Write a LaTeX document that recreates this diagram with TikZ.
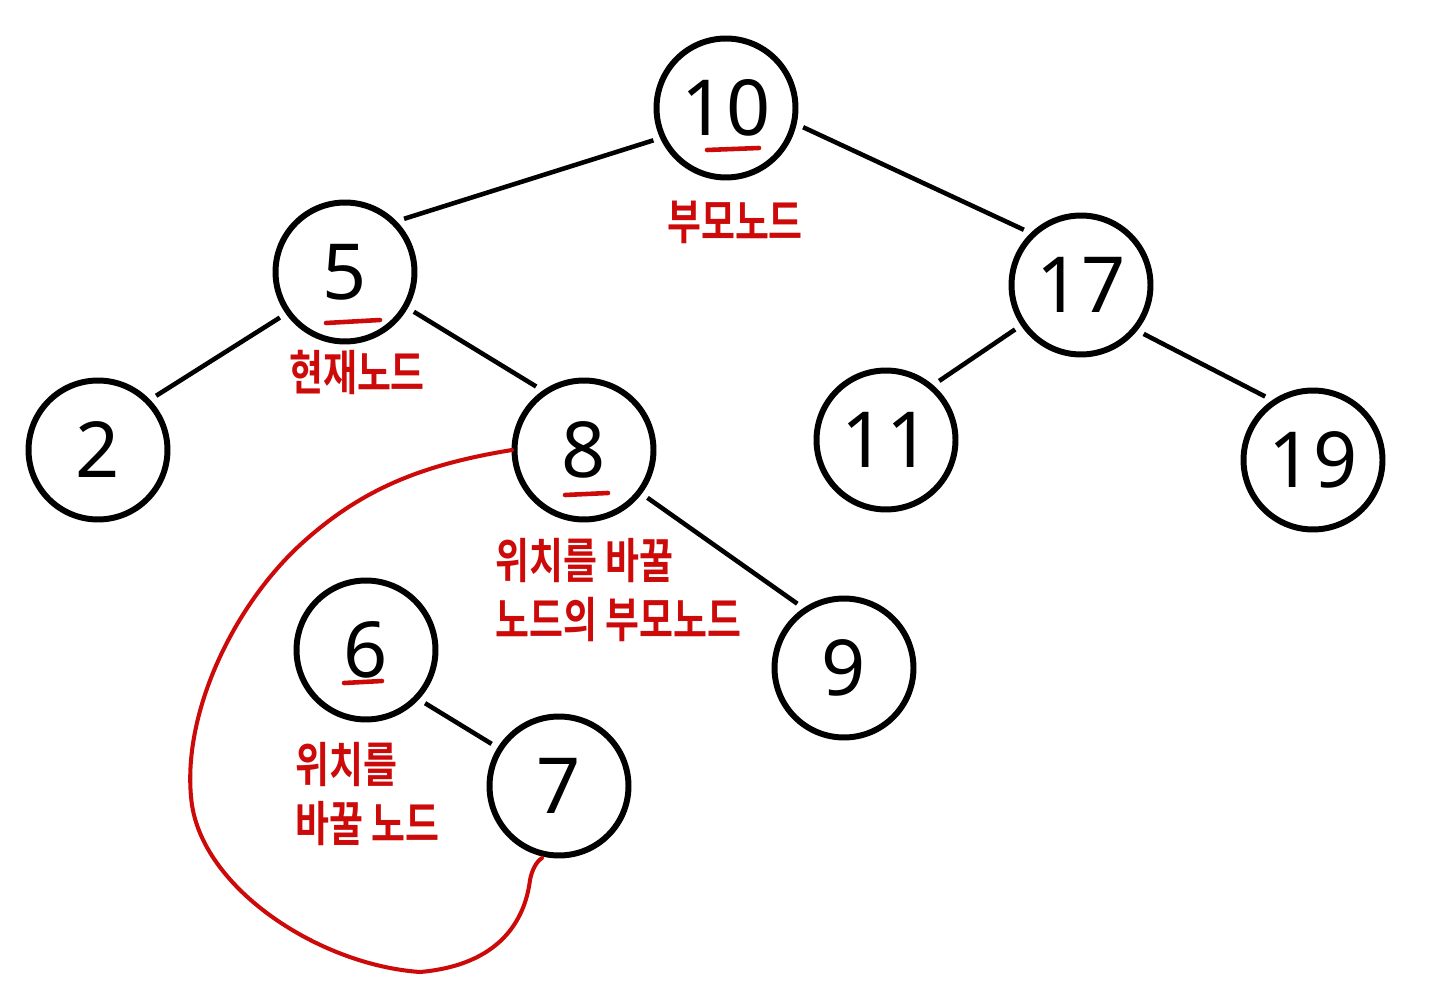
\documentclass[tikz,border=0pt]{standalone}
\usepackage{fontspec}
\usepackage{graphicx}
\usetikzlibrary{calc}
\setmainfont{Noto Sans}
\newfontfamily\kr{Noto Sans CJK KR}[BoldFont={* Bold}]
\newcommand\tallkr[1]{\scalebox{1}[1.3]{#1}}
\definecolor{pen}{RGB}{205,10,10}
\begin{document}
\begin{tikzpicture}[x=0.02cm,y=-0.02cm,
  tn/.style={circle,draw=black,line width=3.4pt,minimum size=2.78cm,inner sep=0pt,outer sep=0.2cm,font=\fontsize{44}{44}\selectfont},
  edge/.style={line width=2.6pt,black},
  lab/.style={text=pen,font=\kr\bfseries\fontsize{21}{34}\selectfont,inner sep=0pt},
  ul/.style={pen,line width=2.6pt,line cap=round}]
\useasboundingbox (0,0) rectangle (1429,999);
\node[tn] (n10) at (726,108) {10};
\node[tn] (n5) at (345,272) {5};
\node[tn] (n17) at (1081,285) {17};
\node[tn] (n2) at (98,450) {2};
\node[tn] (n8) at (584,450) {8};
\node[tn] (n11) at (886,440) {11};
\node[tn] (n19) at (1313,460) {19};
\node[tn] (n6) at (366,650) {6};
\node[tn] (n9) at (844,668) {9};
\node[tn] (n7) at (559,786) {7};
\draw[edge] (n10.204) -- (n5.42);
\draw[edge] (n10.346) -- (n17.136);
\draw[edge] (n5.215) -- (n2.43);
\draw[edge] (n5.330) -- (n8.127);
\draw[edge] (n17.214) -- (n11.48);
\draw[edge] (n17.322) -- (n19.127);
\draw[edge] (n8.323) -- (n9.126);
\draw[edge] (n6.318) -- (n7.148);
% underlines
\draw[ul] (707,150) -- (759,148);
\draw[ul] (326,323) -- (380,320);
\draw[ul] (565,495) -- (608,493);
\draw[ul] (344,683) -- (382,681);
% labels
\node[lab] (l1) at (735,222) {\tallkr{부모노드}};
\node[lab] (l2) at (357,372) {\tallkr{현재노드}};
\node[lab,align=left,anchor=west] (l3) at (495,590) {\tallkr{위치를 바꿀}\\\tallkr{노드의 부모노드}};
\node[lab,align=left,anchor=west] (l4) at (295,794) {\tallkr{위치를}\\\tallkr{바꿀 노드}};
% red loop
\coordinate (s) at ($(n8.center)+(-72,0)$);
\coordinate (e) at ($(n7.center)+(-17,72)$);
\draw[pen,line width=2.3pt,line cap=round] (s) .. controls (420,465) and (360,490) .. (300,545)
  .. controls (230,610) and (180,720) .. (192,805)
  .. controls (205,890) and (320,965) .. (420,972)
  .. controls (500,965) and (525,920) .. (530,880)
  .. controls (532,870) and (536,862) .. (e);
\end{tikzpicture}
\end{document}
